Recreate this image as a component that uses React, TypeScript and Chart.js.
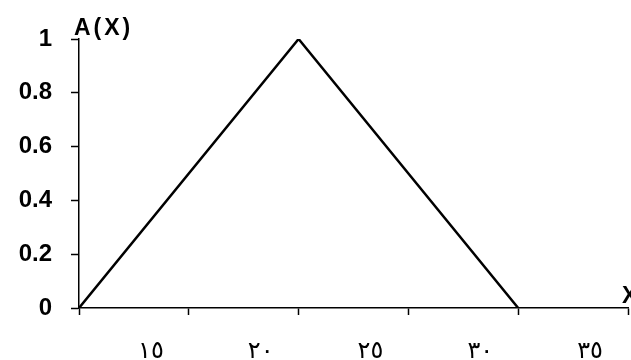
import React, { useEffect, useRef } from "react";
import { Chart, registerables } from "chart.js";

Chart.register(...registerables);

// Data
const xLabels = ["١٥", "٢٠", "٢٥", "٣٠", "٣٥"];
const xLabelValues = [15, 20, 25, 30, 35];
const lineX = [12.5, 22.5, 32.5];
const lineY = [0, 1, 0];
const yTicks = [0, 0.2, 0.4, 0.6, 0.8, 1];
const yTitle = "A(X)";
const xTitle = "X";

const axisTitles = {
  id: "axisTitles",
  afterDraw(chart: any) {
    const ctx = chart.ctx;
    const area = chart.chartArea;
    ctx.save();
    ctx.fillStyle = "#000";
    ctx.font = "bold 23px 'Liberation Sans', Arial, sans-serif";
    ctx.textBaseline = "alphabetic";
    ctx.textAlign = "left";
    try { (ctx as any).letterSpacing = "3px"; } catch (e) {}
    ctx.fillText(yTitle, area.left - 5, area.top - 4);
    try { (ctx as any).letterSpacing = "0px"; } catch (e) {}
    ctx.fillText(xTitle, area.right - 6, area.bottom - 5);
    ctx.restore();
  },
};

export default function App() {
  const ref = useRef<HTMLCanvasElement>(null);
  useEffect(() => {
    document.body.style.margin = "0";
    const chart = new Chart(ref.current!, {
      type: "line",
      data: {
        datasets: [
          {
            data: lineX.map((x, i) => ({ x, y: lineY[i] })),
            borderColor: "#000",
            borderWidth: 2.5,
            pointRadius: 0,
            tension: 0,
            fill: false,
          },
        ],
      },
      options: {
        animation: false,
        responsive: false,
        maintainAspectRatio: false,
        layout: { padding: { top: 39, right: 3, left: 0, bottom: 0 } },
        plugins: { legend: { display: false }, tooltip: { enabled: false } },
        scales: {
          x: {
            type: "linear",
            min: 12.5,
            max: 37.5,
            afterBuildTicks: (s: any) => {
              s.ticks = xLabelValues.map((v) => ({ value: v }));
            },
            afterFit: (s: any) => {
              s.height = 52;
            },
            border: { display: true, color: "#000", width: 1.5 },
            grid: {
              offset: true,
              drawOnChartArea: false,
              drawTicks: true,
              tickLength: 7,
              color: "#000",
              tickWidth: 1.5,
            },
            ticks: {
              autoSkip: false,
              maxRotation: 0,
              labelOffset: 17,
              padding: 22,
              color: "#000",
              font: { family: "'DejaVu Sans', sans-serif", size: 24 },
              callback: (_v: any, i: number) => xLabels[i],
            },
          },
          y: {
            type: "linear",
            min: 0,
            max: 1,
            afterBuildTicks: (s: any) => {
              s.ticks = yTicks.map((v) => ({ value: v }));
            },
            afterFit: (s: any) => {
              s.width = 79;
            },
            border: { display: true, color: "#000", width: 1.5 },
            grid: {
              drawOnChartArea: false,
              drawTicks: true,
              tickLength: 8,
              color: "#000",
              tickWidth: 1.5,
            },
            ticks: {
              padding: 19,
              color: "#000",
              font: { family: "'Liberation Sans', Arial, sans-serif", size: 24, weight: "bold" },
              callback: (v: any) => String(v),
            },
          },
        },
      },
      plugins: [axisTitles],
    } as any);
    return () => chart.destroy();
  }, []);
  return (
    <div style={{ position: "absolute", left: 0, top: 0, width: 631, height: 360, background: "#fff" }}>
      <canvas ref={ref} width={631} height={360} />
    </div>
  );
}
